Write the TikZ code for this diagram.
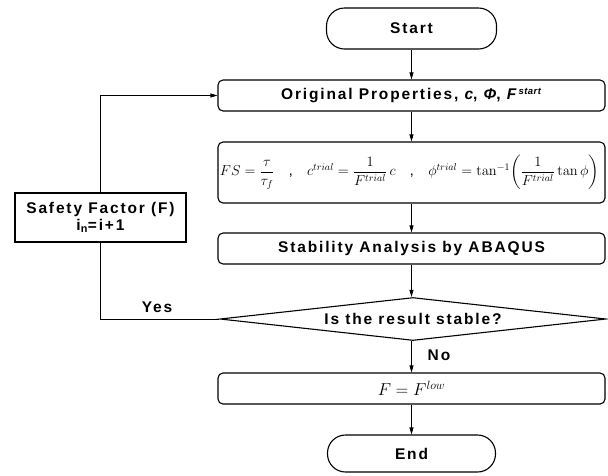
\documentclass[tikz,border=0pt]{standalone}
\usepackage{amsmath}
\usepackage[no-math]{fontspec}
\setmainfont{Liberation Sans}
\newfontfamily\lab{Liberation Sans}[LetterSpace=12]
\newfontfamily\labsup{Liberation Sans}[LetterSpace=5]
\usetikzlibrary{shapes.geometric,arrows.meta}
\tikzset{
  box/.style={draw, line width=1.1pt, rounded corners=5pt, minimum width=387pt, minimum height=31pt, inner sep=0pt, font=\lab\bfseries\fontsize{15.5}{17}\selectfont},
  term/.style={draw, line width=1.1pt, rounded corners=18pt, inner sep=0pt, font=\lab\bfseries\fontsize{15.5}{17}\selectfont},
  plainbox/.style={draw, line width=1.1pt, inner sep=0pt, minimum width=171pt, minimum height=49pt, align=center, font=\lab\bfseries\fontsize{15.5}{18}\selectfont},
  decision/.style={draw, shape=diamond, line width=1.1pt, inner sep=0pt, aspect=9, minimum width=386pt, minimum height=43pt, font=\lab\bfseries\fontsize{15.5}{17}\selectfont},
  lbl/.style={font=\lab\bfseries\fontsize{15.5}{17}\selectfont, inner sep=0pt},
  arr/.style={line width=0.8pt, -{Triangle[length=7pt,width=4pt]}},
  ln/.style={line width=0.9pt}
}
\begin{document}
\begin{tikzpicture}[x=1pt,y=-1pt]
\useasboundingbox (0,0) rectangle (608,475);
\node[term, minimum width=170pt, minimum height=41pt] (start) at (411.5,28.5) {Start};
\node[box] (orig) at (411.5,95.5) {Original Properties, \textit{c}, \textit{Φ}, \textit{F}\raisebox{0.33em}{\labsup\fontsize{9.5}{11}\selectfont\textit{start}}};
\node[box, minimum height=61pt, font=\fontsize{14.3}{17}\selectfont] (form) at (411.5,172.5) {\hspace*{-4pt}$FS=\dfrac{\tau}{\tau_f}$\quad,\quad $c^{trial}=\dfrac{1}{F^{trial}}\,c$\quad,\quad $\phi^{trial}=\tan^{-1}\!\left(\dfrac{1}{F^{trial}}\tan\phi\right)$};
\node[box] (stab) at (411.5,248.5) {Stability Analysis by ABAQUS};
\node[decision] (dec) at (413,319) {Is the result stable?};
\node[box, font=\fontsize{16.5}{18}\selectfont] (fin) at (411.5,388.5) {$F = F^{low}$};
\node[term, minimum width=168pt, minimum height=37pt] (end) at (411.5,453.5) {End};
\node[plainbox] (saf) at (100.5,217.5) {Safety Factor (F)\\[-1pt]i\textsubscript{n}=i+1};
\coordinate (c1) at (saf.south |- dec.west);
\coordinate (c2) at (saf.north |- orig.west);
\draw[arr] (start) -- (orig);
\draw[arr] (orig) -- (form);
\draw[arr] (form) -- (stab);
\draw[arr] (stab) -- (dec.north -| stab.south);
\draw[arr] (dec.south -| fin.north) -- (fin);
\draw[arr] (fin) -- (end);
\draw[ln] (dec.west) -- (c1) -- (saf.south);
\draw[arr] (saf.north) -- (c2) -- (orig.west);
\node[lbl] (yes) at (157,307) {Yes};
\node[lbl] (no) at (439,355) {No};
\end{tikzpicture}
\end{document}
